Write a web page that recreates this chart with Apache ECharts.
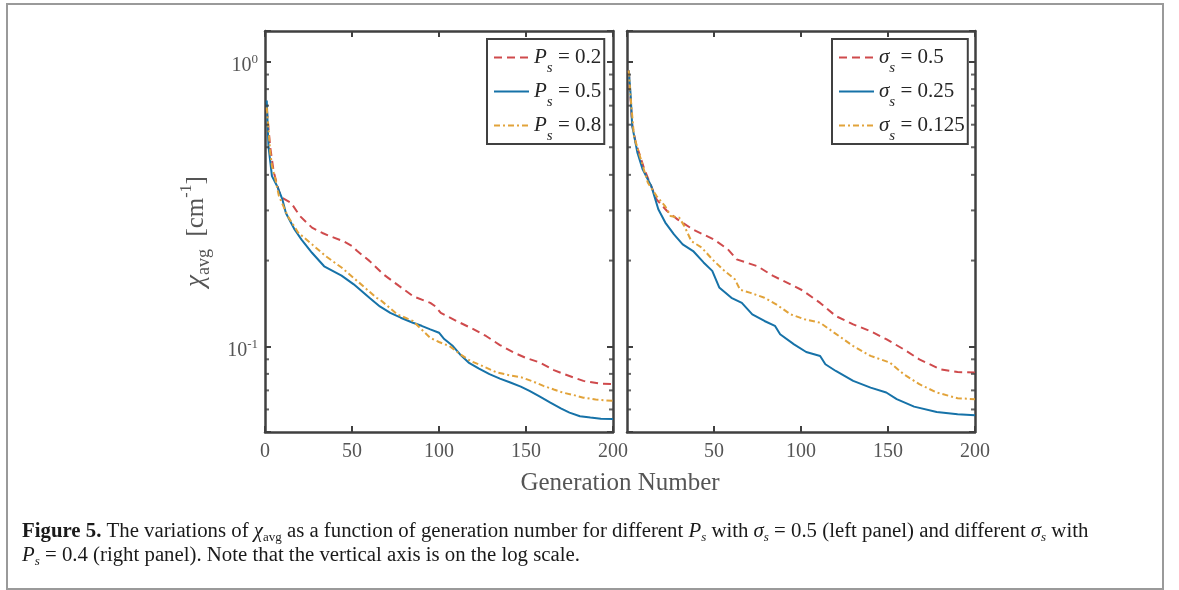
<!DOCTYPE html>
<html>
<head>
<meta charset="utf-8">
<script src="https://cdn.jsdelivr.net/npm/echarts@6/dist/echarts.min.js"></script>
<style>
  html, body { margin: 0; padding: 0; background: #fff; }
  #chart { width: 1179px; height: 590px; }
</style>
</head>
<body>
<div id="chart"></div>
<script>
// generation number vs chi_avg
// left panel: sigma_s = 0.5, different P_s
const leftP02 = [[1,0.68],[3,0.50],[5,0.41],[8,0.35],[10,0.332],[15,0.319],[20,0.287],[27,0.261],[33,0.25],[37,0.244],[45,0.234],[50,0.225],[53,0.216],[60,0.1995],[68,0.179],[77,0.163],[85,0.150],[95,0.142],[98,0.138],[101,0.131],[110,0.1227],[120,0.1147],[127,0.1087],[135,0.101],[143,0.095],[150,0.091],[158,0.0877],[166,0.0825],[172,0.0798],[183,0.0756],[192,0.0740],[200,0.0736]];
const leftP05 = [[1,0.73],[2,0.504],[4,0.396],[7,0.365],[10,0.328],[12,0.294],[17,0.257],[21,0.237],[27,0.213],[34,0.191],[44,0.177],[51,0.165],[60,0.148],[66,0.138],[72,0.131],[78,0.126],[85,0.121],[90,0.118],[95,0.1147],[100,0.1116],[103,0.106],[108,0.1002],[112,0.0938],[117,0.0877],[123,0.0835],[129,0.0798],[135,0.077],[141,0.0746],[147,0.0722],[152,0.0697],[158,0.0665],[164,0.0634],[170,0.0605],[175,0.0585],[181,0.0568],[187,0.0562],[193,0.0557],[200,0.0555]];
const leftP08 = [[1,0.69],[2,0.58],[3,0.48],[4,0.43],[6,0.385],[8,0.337],[13,0.287],[19,0.251],[27,0.228],[35,0.207],[44,0.189],[54,0.1675],[64,0.148],[66,0.146],[76,0.1295],[85,0.1227],[95,0.107],[100,0.1035],[106,0.1002],[112,0.094],[118,0.0888],[124,0.0858],[133,0.081],[141,0.079],[148,0.0776],[154,0.0752],[160,0.0726],[166,0.0705],[171,0.0688],[177,0.0675],[183,0.066],[190,0.065],[200,0.0643]];

// right panel: P_s = 0.4, different sigma_s
const rightS05 = [[1,0.93],[2,0.75],[3,0.60],[5,0.519],[10,0.418],[17,0.328],[23,0.2985],[29,0.279],[38,0.257],[50,0.237],[58,0.219],[63,0.202],[75,0.191],[84,0.1766],[94,0.165],[101,0.157],[111,0.142],[120,0.1277],[130,0.1194],[140,0.113],[149,0.1059],[159,0.0976],[168,0.090],[180,0.083],[190,0.0812],[200,0.0809]];
const rightS025 = [[1,0.93],[2,0.776],[3,0.593],[6,0.478],[9,0.418],[14,0.365],[18,0.303],[22,0.272],[27,0.247],[32,0.228],[38,0.216],[44,0.197],[49,0.184],[53,0.161],[60,0.148],[66,0.142],[72,0.1295],[79,0.1227],[85,0.118],[88,0.1102],[96,0.1016],[103,0.0955],[111,0.0925],[114,0.0865],[120,0.0819],[130,0.0756],[140,0.0716],[149,0.0688],[155,0.0652],[165,0.0614],[178,0.0588],[190,0.0577],[200,0.0573]];
const rightS0125 = [[1,0.93],[2,0.76],[4,0.547],[12,0.375],[17,0.337],[22,0.31],[25,0.287],[30,0.283],[33,0.264],[37,0.234],[43,0.222],[49,0.202],[56,0.184],[62,0.172],[65,0.158],[71,0.154],[79,0.148],[86,0.140],[94,0.1295],[102,0.1244],[111,0.121],[119,0.1117],[130,0.1002],[140,0.0925],[151,0.0877],[159,0.0798],[168,0.0736],[178,0.0688],[190,0.0657],[200,0.0652]];

const leftNames = ['P_s = 0.2', 'P_s = 0.5', 'P_s = 0.8'];
const rightNames = ['σ_s = 0.5', 'σ_s = 0.25', 'σ_s = 0.125'];
const xTicks = [0, 50, 100, 150, 200];
const minorTicks = [0.06, 0.07, 0.08, 0.09, 0.2, 0.3, 0.4, 0.5, 0.6, 0.7, 0.8, 0.9];

const FONT = '"Liberation Serif", "DejaVu Serif", serif';
const AXIS = '#404040';
const LABEL = '#555555';
const RED = '#CF4A4C';
const BLUE = '#1672A8';
const YELLOW = '#E2A33A';
const YMIN = 0.05, YMAX = 1.28;

let chart = echarts.init(document.getElementById('chart'), null, {renderer: 'canvas'});

function xAx(gi, pos, hideZero) {
    return {
        type: 'value', gridIndex: gi, position: pos,
        min: xTicks[0], max: xTicks[xTicks.length - 1], interval: 50,
        axisLine: {show: true, onZero: false, lineStyle: {color: AXIS, width: 2.5}},
        axisTick: {show: true, inside: true, length: 6, lineStyle: {color: AXIS, width: 2}},
        axisLabel: {
            show: pos === 'bottom', margin: 10, color: LABEL, fontSize: 20, fontFamily: FONT,
            showMinLabel: !hideZero
        },
        splitLine: {show: false}
    };
}

function yAx(gi, pos, labels) {
    let ax = {
        type: 'log', logBase: 10, gridIndex: gi, position: pos,
        min: YMIN, max: YMAX,
        axisLine: {show: true, onZero: false, lineStyle: {color: AXIS, width: 2.5}},
        axisTick: {show: true, inside: true, length: 6, lineStyle: {color: AXIS, width: 2}},
        axisLabel: {
            show: labels, margin: 7, color: LABEL, padding: [6, 0, 0, 0],
            formatter: function (v) {
                let l = Math.log10(v), e = Math.round(l);
                if (Math.abs(l - e) > 1e-6) return '';
                return '{b|10}{s|' + e + '}';
            },
            rich: {
                b: {fontSize: 20, fontFamily: FONT, color: LABEL, lineHeight: 22, verticalAlign: 'bottom'},
                s: {fontSize: 13, fontFamily: FONT, color: LABEL, lineHeight: 13, verticalAlign: 'top', padding: [0, 0, 13, 0]}
            }
        },
        splitLine: {show: false}
    };
    if (labels) {
        ax.name = '{c|χ}{a|avg}{t|  [cm}{p|-1}{t|]}';
        ax.nameLocation = 'middle';
        ax.nameGap = 52;
        ax.nameRotate = 90;
        ax.nameTextStyle = {
            color: LABEL,
            rich: {
                c: {fontSize: 27, fontFamily: FONT, fontStyle: 'italic', color: LABEL, lineHeight: 34},
                a: {fontSize: 18, fontFamily: FONT, color: LABEL, lineHeight: 17, verticalAlign: 'bottom'},
                t: {fontSize: 25, fontFamily: FONT, color: LABEL, lineHeight: 34},
                p: {fontSize: 16, fontFamily: FONT, color: LABEL, lineHeight: 16, verticalAlign: 'top'}
            }
        };
    }
    return ax;
}

function curve(name, data, idx, color, type) {
    return {
        type: 'line', name: name, data: data,
        xAxisIndex: idx, yAxisIndex: idx,
        symbol: 'none', smooth: false,
        lineStyle: {color: color, width: 2, type: type},
        itemStyle: {color: color}
    };
}

// short inside ticks for the log minor divisions
function minor(idx, x, off) {
    return {
        type: 'scatter', xAxisIndex: idx, yAxisIndex: idx, silent: true,
        symbol: 'rect', symbolSize: [4, 2], symbolOffset: [off, 0],
        itemStyle: {color: AXIS},
        data: minorTicks.map(v => [x, v]), z: 5
    };
}

function legendFmt(n) {
    let parts = n.split('_');
    return '{i|' + parts[0] + '}{s|' + parts[1][0] + '}{t|' + parts[1].slice(1) + '}';
}

// subscript pushed down with top padding
const legRich = {
    i: {fontSize: 21, fontFamily: FONT, fontStyle: 'italic', color: '#262626'},
    s: {fontSize: 15, fontFamily: FONT, fontStyle: 'italic', color: '#262626', padding: [22, 0, 0, 0]},
    t: {fontSize: 21, fontFamily: FONT, color: '#262626'}
};

function legend(names, left) {
    return {
        data: names, orient: 'vertical', left: left, top: 39,
        itemWidth: 35, itemHeight: 14, itemGap: 5,
        padding: [8, 3, 0, 6],
        backgroundColor: '#fff', borderColor: AXIS, borderWidth: 2, borderRadius: 0,
        formatter: legendFmt,
        itemStyle: {opacity: 0},
        textStyle: {rich: legRich},
        selectedMode: false
    };
}

const CS = 20.8;
const capRich = {
    b: {fontSize: CS, fontFamily: FONT, fontWeight: 'bold', fill: '#1a1a1a', lineHeight: 24},
    n: {fontSize: CS, fontFamily: FONT, fill: '#1a1a1a', lineHeight: 24},
    i: {fontSize: CS, fontFamily: FONT, fontStyle: 'italic', fill: '#1a1a1a', lineHeight: 24},
    sub: {fontSize: 13, fontFamily: FONT, fontStyle: 'italic', fill: '#1a1a1a', lineHeight: 12, verticalAlign: 'bottom'},
    subn: {fontSize: 13, fontFamily: FONT, fill: '#1a1a1a', lineHeight: 12, verticalAlign: 'bottom'}
};

const cap1 = '{b|Figure 5.}{n| The variations of }{i|χ}{subn|avg}{n| as a function of generation number for different }{i|P}{sub|s}{n| with }{i|σ}{sub|s}{n| = 0.5 (left panel) and different }{i|σ}{sub|s}{n| with}';
const cap2 = '{i|P}{sub|s}{n| = 0.4 (right panel). Note that the vertical axis is on the log scale.}';

let option = {
    animation: false,
    backgroundColor: '#fff',
    grid: [
        {left: 265, top: 31, width: 348, height: 401},
        {left: 627, top: 31, width: 348, height: 401}
    ],
    xAxis: [xAx(0, 'bottom', false), xAx(0, 'top', false), xAx(1, 'bottom', true), xAx(1, 'top', false)],
    yAxis: [yAx(0, 'left', true), yAx(0, 'right', false), yAx(1, 'left', false), yAx(1, 'right', false)],
    legend: [legend(leftNames, 487), legend(rightNames, 832)],
    series: [
        curve(leftNames[0], leftP02, 0, RED, [8, 5]),
        curve(leftNames[1], leftP05, 0, BLUE, 'solid'),
        curve(leftNames[2], leftP08, 0, YELLOW, [6, 3, 2, 3]),
        curve(rightNames[0], rightS05, 2, RED, [8, 5]),
        curve(rightNames[1], rightS025, 2, BLUE, 'solid'),
        curve(rightNames[2], rightS0125, 2, YELLOW, [6, 3, 2, 3]),
        minor(0, 0, 2), minor(0, 200, -2),
        minor(2, 0, 2), minor(2, 200, -2)
    ],
    graphic: [
        {type: 'rect', shape: {x: 7, y: 4, width: 1156, height: 585}, style: {fill: 'none', stroke: '#9a9a9a', lineWidth: 2}, silent: true},
        {type: 'text', x: 620, y: 483, style: {text: 'Generation Number', font: '25px ' + FONT, fill: LABEL, align: 'center', verticalAlign: 'middle'}},
        {type: 'text', x: 22, y: 532, style: {text: cap1, rich: capRich, font: CS + 'px ' + FONT, fill: '#1a1a1a', verticalAlign: 'middle'}},
        {type: 'text', x: 22, y: 556, style: {text: cap2, rich: capRich, font: CS + 'px ' + FONT, fill: '#1a1a1a', verticalAlign: 'middle'}}
    ]
};

chart.setOption(option);
</script>
</body>
</html>
